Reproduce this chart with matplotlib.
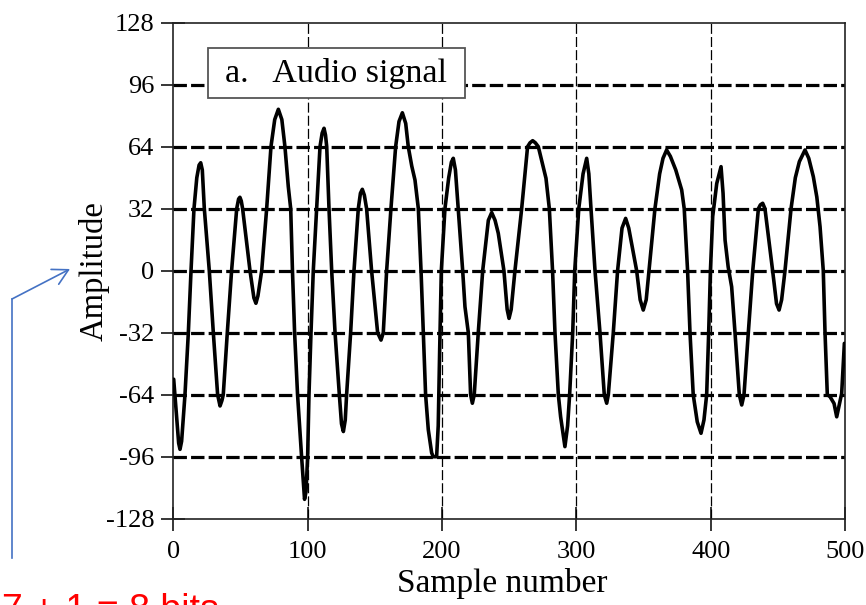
import matplotlib
matplotlib.use("Agg")
import matplotlib.pyplot as plt
from matplotlib.lines import Line2D
from matplotlib.patches import Rectangle

plt.rcParams['font.family'] = ['Liberation Serif', 'DejaVu Serif']
plt.rcParams['axes.unicode_minus'] = False

# ---- data (sample index, amplitude) ----
sample_idx = [
    0.3, 2.5, 4.0, 5.0, 6.2, 8.7, 11.2, 13.2, 15.4, 17.5, 19.2, 20.4, 21.6, 23.1,
    26.8, 29.8, 33.0, 34.8, 36.2, 37.2, 40.2, 43.4, 47.2, 48.6, 49.6, 50.6, 51.6,
    57.1, 60.0, 61.5, 63.0, 65.8, 69.5, 72.7, 75.5, 78.2, 80.8, 83.1, 85.6, 87.4,
    88.7, 90.3, 92.5, 95.5, 97.7, 98.8, 100.0, 101.0, 102.5, 104.2, 106.7, 109.2,
    110.8, 112.2, 113.3, 114.2, 115.9, 117.9, 120.4, 123.6, 125.2, 126.6, 128.0,
    129.0, 132.0, 134.5, 137.7, 139.3, 140.7, 142.2, 143.9, 147.6, 152.1, 154.6,
    156.3, 158.8, 162.0, 165.5, 168.0, 170.5, 173.0, 174.9, 177.5, 179.9, 182.4,
    184.4, 186.1, 187.8, 189.8, 192.3, 193.5, 196.0, 197.2, 198.3, 199.5, 202.2,
    205.0, 207.0, 208.4, 210.0, 212.1, 215.4, 217.1, 219.6, 221.3, 222.6, 224.0,
    227.0, 230.3, 234.5, 237.0, 239.5, 241.9, 246.1, 248.5, 249.9, 251.5, 254.3,
    259.3, 263.7, 265.5, 267.5, 269.5, 271.7, 277.4, 279.9, 282.3, 284.1, 286.6,
    288.3, 291.5, 293.5, 295.0, 297.3, 298.8, 301.8, 305.0, 307.7, 309.3, 310.9,
    313.9, 317.6, 320.8, 322.6, 323.8, 327.5, 330.7, 334.0, 336.7, 339.0, 344.9,
    347.5, 349.8, 352.0, 354.1, 358.5, 362.0, 364.5, 367.2, 370.0, 374.0, 378.4,
    380.3, 382.8, 384.6, 387.0, 390.0, 392.8, 395.0, 397.0, 398.5, 399.8, 401.5,
    404.5, 407.7, 409.2, 410.7, 413.0, 415.6, 418.1, 421.3, 423.1, 424.8, 428.0,
    431.3, 435.5, 437.0, 438.7, 440.4, 446.1, 449.0, 450.9, 452.8, 455.3, 459.8,
    463.0, 466.0, 470.2, 473.0, 476.4, 479.0, 481.4, 483.8, 485.1, 486.8, 488.8,
    491.8, 493.8, 497.5, 499.5,
]
amplitude = [
    -56, -76, -89, -92.2, -88, -64, -32, 0, 32, 48, 54.5, 55.7, 52, 32,
    0, -32, -64, -69.8, -67, -64, -32, 0, 32, 37, 37.9, 36, 32,
    0, -14, -16.8, -13, 0, 32, 64, 78, 83.3, 78, 64, 43.4, 32,
    0, -32, -64, -96, -118, -114, -96, -64, -32, 0, 32, 64,
    71, 73.5, 70, 64, 32, 0, -32, -64, -79, -83, -77,
    -64, -32, 0, 32, 40, 42, 39, 32, 0, -32, -35.8,
    -32, 0, 32, 64, 77, 81.5, 76, 64, 54, 46.8, 32,
    0, -32, -64, -82, -94, -96, -96, -80, -40, 0, 32,
    48, 56, 58, 52, 32, 0, -18.6, -32, -64, -68.4, -64,
    -32, 0, 26, 30, 26, 19.3, 0, -20, -24.6, -20, 0,
    32, 64, 66, 67.1, 66, 64, 47.7, 32, 0, -32, -64,
    -75.4, -90.8, -80, -64, -32, 0, 32, 50, 58, 50, 32,
    0, -32, -64, -68.4, -64, -32, 0, 22, 27, 22, 0,
    -15, -20.3, -15, 0, 32, 50, 58, 62.3, 59, 52, 41.7,
    32, 0, -32, -64, -78, -83.9, -77, -64, -32, 0, 28,
    45, 53.7, 40, 15.8, 2, -8.3, -32, -64, -69.3, -64, -32,
    0, 32, 34, 34.8, 32, 0, -17, -20.3, -15, 0, 32,
    48, 56.3, 62.3, 58, 48.5, 38, 22.7, 0, -32, -64, -65,
    -68.5, -75.4, -63.3, -37.5,
]

x_ticks = [0, 100, 200, 300, 400, 500]
y_ticks = [-128, -96, -64, -32, 0, 32, 64, 96, 128]
panel_label = "a.   Audio signal"
bits_note = "7 + 1 = 8 bits"

fig = plt.figure(figsize=(8.66, 6.05), dpi=100)
ax = fig.add_axes([0.2001, 0.1426, 0.7757, 0.8199])

# grid: heavy dashed horizontals, thin dashed verticals
for v in y_ticks[1:-1]:
    ax.axhline(v, color="black", lw=2.3, ls=(0, (4.2, 1.3)),
               dash_capstyle="butt", zorder=1)
for v in x_ticks[1:-1]:
    ax.axvline(v, color="black", lw=0.9, ls=(0, (8, 2.5)), zorder=1)

ax.plot(sample_idx, amplitude, color="black", lw=2.6,
        solid_joinstyle="round", solid_capstyle="round", zorder=4)

ax.set_xlim(0, 500)
ax.set_ylim(-128, 128)
ax.set_xticks(x_ticks)
ax.set_yticks(y_ticks)
ax.set_yticklabels([str(v) for v in y_ticks])
ax.tick_params(direction="inout", length=17, width=1.1, labelsize=19,
               color="black")
ax.tick_params(axis="x", pad=7.5)
ax.tick_params(axis="y", pad=5)
for sp in ax.spines.values():
    sp.set_linewidth(1.2)
    sp.set_color("#222222")

ax.set_xlabel("Sample number", fontsize=24, va="baseline")
ax.xaxis.set_label_coords(0.489, -0.148)
ax.set_ylabel("Amplitude", fontsize=23.5, va="center")
ax.yaxis.set_label_coords(-0.118, 0.5)

# panel title box
ax.add_patch(Rectangle((0.0512, 0.8477), 0.3831, 0.1020, transform=ax.transAxes,
                       facecolor="white", edgecolor="#555555", lw=1.3, zorder=5))
ax.text(0.2424, 97.5, panel_label, transform=ax.get_yaxis_transform(which="grid"),
        ha="center", va="baseline", fontsize=24.5, zorder=6)

# blue pointer arrow and red note (slide overlay, cut at the bottom edge)
fig.add_artist(Line2D([0.01386, 0.01386], [0.0777, 0.5058],
                      transform=fig.transFigure, color="#4472C4", lw=1.2))
ax.annotate("", xy=(70, 336), xycoords="figure pixels",
            xytext=(12, 306), textcoords="figure pixels",
            arrowprops=dict(arrowstyle="->,head_length=0.55,head_width=0.3",
                            color="#4472C4", lw=1.2, mutation_scale=20,
                            shrinkA=0, shrinkB=0))
fig.text(0.002, -0.0265, bits_note, color="red", fontsize=27,
         family="Liberation Sans", ha="left", va="baseline")

fig.savefig("out.png", dpi=100)
